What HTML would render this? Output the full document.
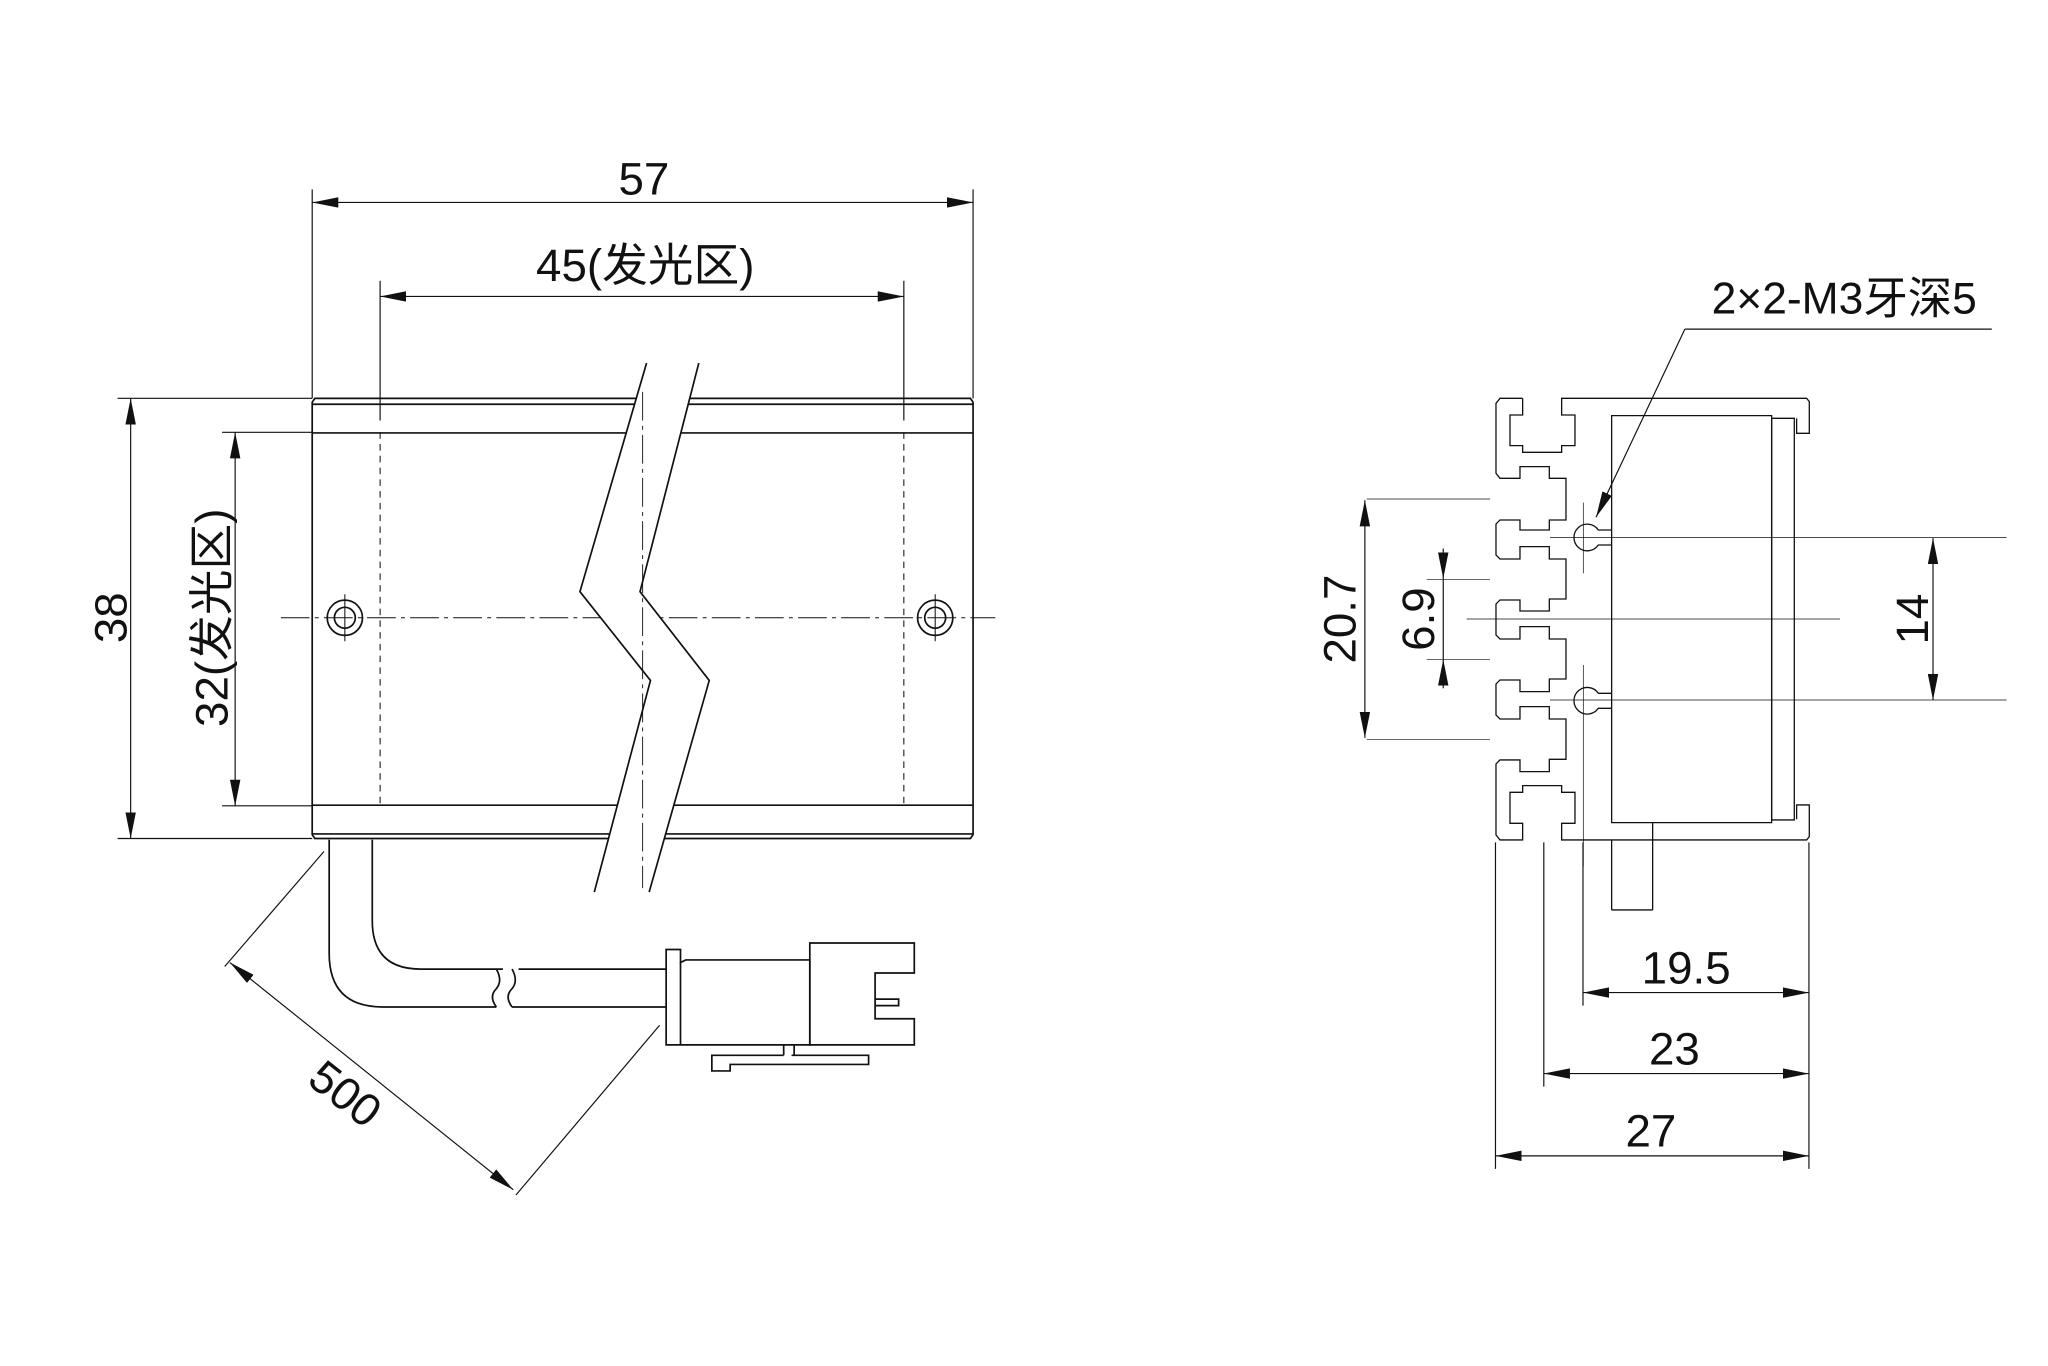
<!DOCTYPE html>
<html><head><meta charset="utf-8"><style>
html,body{margin:0;padding:0;background:#fff;}
svg{display:block}
text{font-family:"Liberation Sans","Noto Sans CJK SC",sans-serif;fill:#111;}
</style></head><body>
<svg width="2048" height="1366" viewBox="0 0 1568 1045.9" xmlns="http://www.w3.org/2000/svg">
<defs>
<marker id="a" viewBox="0 0 20 8" refX="20" refY="4" markerWidth="20" markerHeight="8" markerUnits="userSpaceOnUse" orient="auto-start-reverse"><path d="M0,0 L20,4 L0,8 Z" fill="#111"/></marker>
</defs>
<g fill="none" stroke="#111" stroke-width="1.3">
<path d="M241,305 L743,305 L745,308 L745,639 L743,642 L241,642 L239,639 L239,308 Z" fill="#fff"/>
<line x1="239" y1="309.5" x2="745" y2="309.5"/>
<line x1="239" y1="331.5" x2="745" y2="331.5"/>
<line x1="239" y1="616.5" x2="745" y2="616.5"/>
<line x1="239" y1="638.5" x2="745" y2="638.5"/>
<g stroke-width="0.8" stroke-dasharray="5,4"><line x1="291" y1="331" x2="291" y2="617"/><line x1="692" y1="331" x2="692" y2="617"/></g>
<g stroke-width="0.8" stroke-dasharray="22,4,3,4"><line x1="215" y1="473" x2="762" y2="473"/></g>
<circle cx="264" cy="473" r="13.5"/><circle cx="264" cy="473" r="8"/>
<circle cx="716" cy="473" r="13.5"/><circle cx="716" cy="473" r="8"/>
<g stroke-width="0.8"><line x1="264" y1="455" x2="264" y2="491"/><line x1="716" y1="455" x2="716" y2="491"/></g>
<polygon points="495,278 444,453 498,521 455,683 497,683 543,521 490,453 535,278" fill="#fff" stroke="none"/>
<polyline points="495,278 444,453 498,521 455,683"/>
<polyline points="535,278 490,453 543,521 497,683"/>
<line x1="492" y1="300" x2="492" y2="680" stroke-width="0.7" stroke-dasharray="22,4,3,4"/>
<g stroke-width="0.9">
<line x1="239" y1="145" x2="239" y2="305"/><line x1="745" y1="145" x2="745" y2="305"/>
<line x1="239" y1="155" x2="745" y2="155" marker-start="url(#a)" marker-end="url(#a)"/>
<line x1="291" y1="215" x2="291" y2="322"/><line x1="692" y1="215" x2="692" y2="322"/>
<line x1="291" y1="227" x2="692" y2="227" marker-start="url(#a)" marker-end="url(#a)"/>
<line x1="90" y1="305" x2="239" y2="305"/><line x1="90" y1="642" x2="239" y2="642"/>
<line x1="100" y1="305" x2="100" y2="642" marker-start="url(#a)" marker-end="url(#a)"/>
<line x1="170" y1="331" x2="239" y2="331"/><line x1="170" y1="617" x2="239" y2="617"/>
<line x1="180" y1="331" x2="180" y2="617" marker-start="url(#a)" marker-end="url(#a)"/>
<line x1="248" y1="652" x2="172" y2="740"/><line x1="505" y1="785" x2="395" y2="915"/>
<line x1="176" y1="737" x2="393" y2="911" marker-start="url(#a)" marker-end="url(#a)"/>
</g>
<path d="M252,643 L252,730 Q252,771 293,771 L380,771"/>
<path d="M285,643 L285,705 Q285,742 322,742 L385,742"/>
<path d="M380,771 q-6,-8 0,-14 q5,-6 0,-15"/>
<path d="M392,771 q-6,-8 0,-14 q5,-6 0,-15"/>
<path d="M392,771 L510,771"/><path d="M397,742 L510,742"/>
<path d="M510,727 L521,727 L521,737 L525,735 L620,735 L620,800 L525,800 L510,800 L510,727 Z"/>
<line x1="521" y1="737" x2="521" y2="800"/>
<path d="M620,722 L700,722 L700,745 L670,745 L670,780 L700,780 L700,800 L620,800 Z"/>
<path d="M670,765 L688,765 L688,770 L670,770"/>
<path d="M600,800 L600,808 M608,800 L608,808 M606,808 L665,808 L665,815 L559,815 L559,820 L545,820 L545,808 L600,808"/>
<g transform="scale(0.76563) translate(1460,380) scale(0.33333)">
<path vector-effect="non-scaling-stroke" d="M188,55 L120,55 L108,70 L108,280 L120,295 L180,295 L180,260 L268,260 L268,295 L318,295 L318,420 L268,420 L268,450 L180,450 L180,420 L120,420 L108,432 L108,525 L120,537 L180,537 L180,500 L268,500 L268,537 L318,537 L318,657 L268,657 L268,693 L180,693 L180,660 L120,660 L108,672 L108,765 L120,777 L180,777 L180,740 L268,740 L268,777 L318,777 L318,897 L268,897 L268,935 L180,935 L180,900 L120,900 L108,912 L108,1005 L120,1017 L180,1017 L180,980 L268,980 L268,1017 L318,1017 L318,1138 L268,1138 L268,1175 L180,1175 L180,1140 L120,1140 L108,1152 L108,1365 L120,1380 L188,1380 L188,1330 L150,1330 L150,1237 L188,1237 L188,1217 L305,1217 L305,1237 L345,1237 L345,1330 L305,1330 L305,1380 L1040,1380 L1048,1370 L1048,1275 L1010,1275 L1010,1318"/>
<path vector-effect="non-scaling-stroke" d="M188,55 L188,105 L150,105 L150,197 L188,197 L188,217 L305,217 L305,197 L345,197 L345,105 L305,105 L305,55 L1040,55 L1048,65 L1048,160 L1010,160 L1010,115"/>
<rect vector-effect="non-scaling-stroke" x="455" y="107" width="480" height="1221"/>
<rect vector-effect="non-scaling-stroke" x="935" y="115" width="68" height="1205"/>
<path vector-effect="non-scaling-stroke" d="M455,450 L415,450 A40,40 0 1 0 415,495 L455,495"/>
<path vector-effect="non-scaling-stroke" d="M455,940 L415,940 A40,40 0 1 0 415,985 L455,985"/>
<path vector-effect="non-scaling-stroke" stroke-width="0.7" d="M270,473 L1640,473 M270,960 L1640,960 M370,368 L370,580 M370,855 L370,1460 M20,717 L1140,717" />
<path vector-effect="non-scaling-stroke" stroke-width="0.7" d="M-280,357 L90,357 M-280,1078 L90,1078 M-100,598 L90,598 M-100,838 L90,838"/>
<path vector-effect="non-scaling-stroke" d="M578,1328 L578,1590 M455,1380 L455,1590 M455,1590 L578,1590"/>
</g>
<g stroke-width="0.9">
<line x1="1145" y1="645" x2="1145" y2="895"/><line x1="1182" y1="645" x2="1182" y2="832"/>
<line x1="1212" y1="645" x2="1212" y2="770"/><line x1="1385" y1="645" x2="1385" y2="895"/>
<line x1="1212" y1="760" x2="1385" y2="760" marker-start="url(#a)" marker-end="url(#a)"/>
<line x1="1182" y1="822" x2="1385" y2="822" marker-start="url(#a)" marker-end="url(#a)"/>
<line x1="1145" y1="885" x2="1385" y2="885" marker-start="url(#a)" marker-end="url(#a)"/>
<line x1="1045" y1="383" x2="1045" y2="565" marker-start="url(#a)" marker-end="url(#a)"/>
<line x1="1105" y1="420" x2="1105" y2="443" marker-end="url(#a)"/>
<line x1="1105" y1="527" x2="1105" y2="505" marker-end="url(#a)"/>
<line x1="1105" y1="443" x2="1105" y2="505"/>
<line x1="1480" y1="412" x2="1480" y2="536" marker-start="url(#a)" marker-end="url(#a)"/>
<line x1="1525" y1="252" x2="1290" y2="252"/>
<line x1="1290" y1="252" x2="1222" y2="396" marker-end="url(#a)"/>
</g>
</g>
<text x="493" y="149" font-size="35" text-anchor="middle">57</text>
<text x="494" y="215" font-size="35" text-anchor="middle">45(发光区)</text>
<text transform="translate(97,473) rotate(-90)" font-size="35" text-anchor="middle">38</text>
<text transform="translate(174,473) rotate(-90)" font-size="35" text-anchor="middle">32(发光区)</text>
<text transform="translate(257,847) rotate(38)" font-size="35" text-anchor="middle">500</text>
<text x="1412" y="240" font-size="34" text-anchor="middle">2×2-M3牙深5</text>
<text transform="translate(1038,474) rotate(-90)" font-size="35" text-anchor="middle">20.7</text>
<text transform="translate(1098,474) rotate(-90)" font-size="35" text-anchor="middle">6.9</text>
<text transform="translate(1476,474) rotate(-90)" font-size="35" text-anchor="middle">14</text>
<text x="1291" y="753" font-size="35" text-anchor="middle">19.5</text>
<text x="1282" y="815" font-size="35" text-anchor="middle">23</text>
<text x="1264" y="878" font-size="35" text-anchor="middle">27</text>
</svg>
</body></html>
